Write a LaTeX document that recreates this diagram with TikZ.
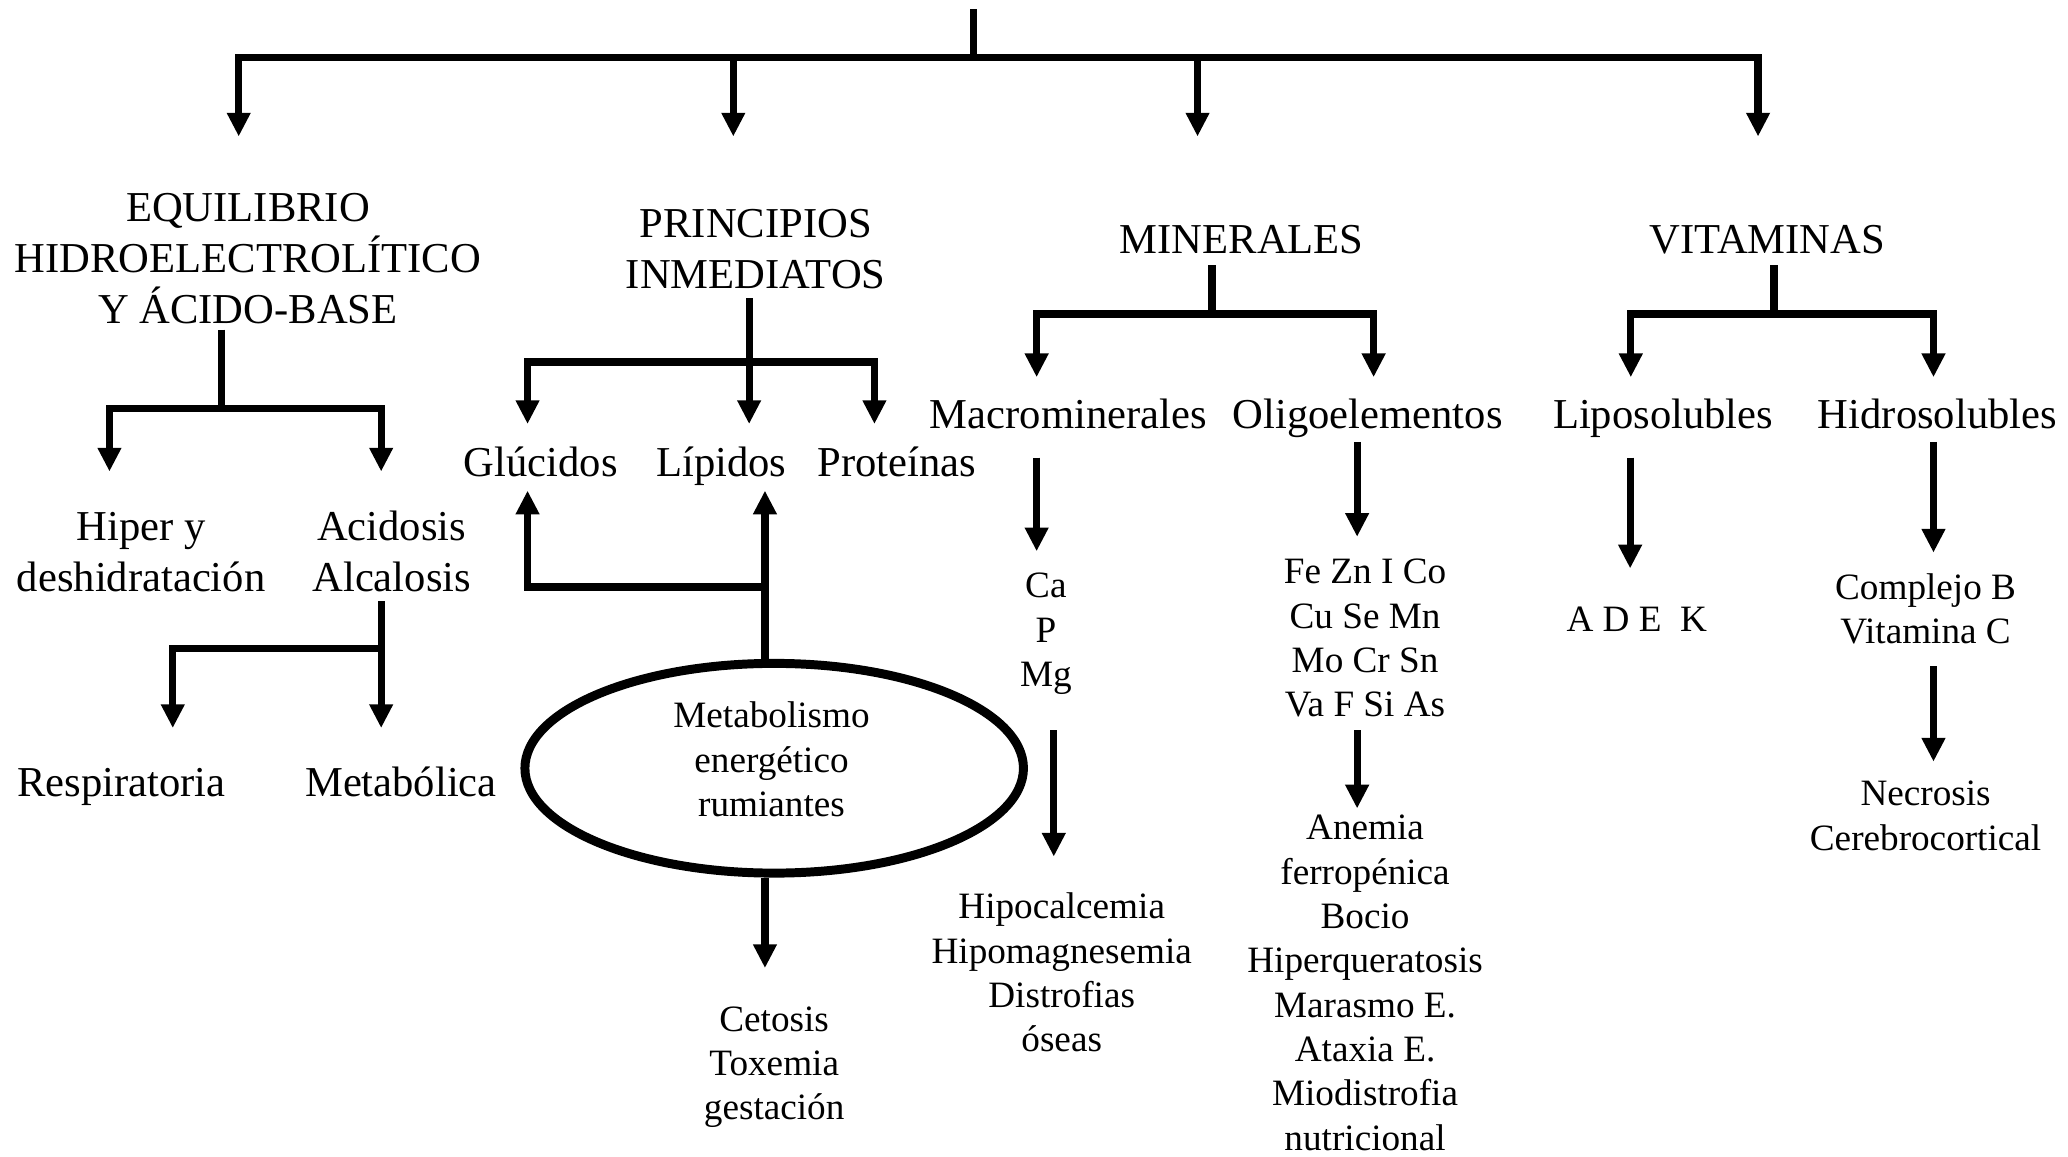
\documentclass[tikz,border=0pt]{standalone}
\usepackage{fontspec}
\setmainfont{Liberation Serif}
\usetikzlibrary{arrows.meta,shapes.geometric}
\begin{document}
\begin{tikzpicture}[x=1pt,y=-1pt,
  line/.style={line width=5.5pt},
  arr/.style={line width=5.5pt,-{Triangle[length=18pt,width=17pt]}},
  big/.style={font=\fontsize{32.3}{38.5}\selectfont, align=center, anchor=base, inner sep=0pt},
  small/.style={font=\fontsize{28.2}{33.6}\selectfont, align=center, anchor=base, inner sep=0pt},
  oval/.style={draw, ellipse, line width=6.8pt, minimum width=378pt, minimum height=159pt, inner sep=0pt}]
\useasboundingbox (0,0) rectangle (1568,877);

% ---- text nodes (placed by the baseline of their last line) ----
\node[big] (eq) at (188,245) {EQUILIBRIO\\HIDROELECTROLÍTICO\\Y ÁCIDO-BASE};
\node[big] (pr) at (573,218.5) {PRINCIPIOS\\INMEDIATOS};
\node[big] (min) at (941.5,192) {MINERALES};
\node[big] (vit) at (1340,192) {VITAMINAS};
\node[big] (hip) at (107,448.5) {Hiper y\\deshidratación};
\node[big] (ac) at (297,448.5) {Acidosis\\Alcalosis};
\node[big] (res) at (92,604) {Respiratoria};
\node[big] (mtb) at (304,604) {Metabólica};
\node[big] (gl) at (410,361.5) {Glúcidos};
\node[big] (lp) at (547,361.5) {Lípidos};
\node[big] (pt) at (680,361.5) {Proteínas};
\node[big] (mac) at (810,325) {Macrominerales};
\node[big] (oli) at (1037,325) {Oligoelementos};
\node[big] (lipo) at (1261,325) {Liposolubles};
\node[big] (hid) at (1469,325) {Hidrosolubles};
\node[oval] (met) at (587,582.5) {};
\node[small] (metx) at (585,619) {Metabolismo\\energético\\rumiantes};
\node[small] (cet) at (587,849) {Cetosis\\Toxemia\\gestación};
\node[small] (ca) at (793,520.6) {Ca\\P\\Mg};
\node[small] (hipo) at (805,797.4) {Hipocalcemia\\Hipomagnesemia\\Distrofias\\óseas};
\node[small] (fe) at (1035,543.4) {Fe Zn I Co\\Cu Se Mn\\Mo Cr Sn\\Va F Si As};
\node[small] (ane) at (1035,872) {Anemia\\ferropénica\\Bocio\\Hiperqueratosis\\Marasmo E.\\Ataxia E.\\Miodistrofia\\nutricional};
\node[small] (adek) at (1241,479) {A D E\ \ K};
\node[small] (cb) at (1460,487.8) {Complejo B\\Vitamina C};
\node[small] (nec) at (1460,644.5) {Necrosis\\Cerebrocortical};

% ---- connector end points ----
\coordinate (top) at (738,7);   \coordinate (hub) at (738,43.5);
\coordinate (eqT) at (181,103.5); \coordinate (prT) at (556,103.5);
\coordinate (minT) at (908,103.5); \coordinate (vitT) at (1333,103.5);

\coordinate (eqS) at (168,250);  \coordinate (eqH) at (168,310);
\coordinate (hipT) at (83,357.5); \coordinate (acT) at (289,357.5);
\coordinate (acS) at (289,456);  \coordinate (acH) at (289,491.5);
\coordinate (resT) at (131,552); \coordinate (mtbT) at (289,552);

\coordinate (prS) at (568,226);  \coordinate (prH) at (568,274.5);
\coordinate (glT) at (400,321.5); \coordinate (lpT) at (568,321.5); \coordinate (ptT) at (663,321.5);
\coordinate (upH) at (580,445);
\coordinate (glU) at (400,372);  \coordinate (lpU) at (580,372);
\coordinate (cetT) at (580,734);

\coordinate (minS) at (919,201); \coordinate (minH) at (919,238);
\coordinate (macT) at (786,286); \coordinate (oliT) at (1041.5,286);
\coordinate (macS) at (786,347); \coordinate (caT) at (786,418);
\coordinate (caS) at (799,553.5); \coordinate (hipoT) at (799,649.5);
\coordinate (oliS) at (1029,335); \coordinate (feT) at (1029,407);
\coordinate (feS) at (1029,553.5); \coordinate (aneT) at (1029,613);

\coordinate (vitS) at (1345,201); \coordinate (vitH) at (1345,238);
\coordinate (lipoT) at (1236.5,286); \coordinate (hidT) at (1466,286);
\coordinate (lipoS) at (1236,347); \coordinate (adekT) at (1236,431);
\coordinate (hidS) at (1466,335); \coordinate (cbT) at (1466,419);
\coordinate (cbS) at (1466,505); \coordinate (necT) at (1466,577.5);

% ---- main bracket ----
\draw[line] (top) -- (hub);
\draw[arr] (hub) -| (eqT);
\draw[arr] (hub) -| (prT);
\draw[arr] (hub) -| (minT);
\draw[arr] (hub) -| (vitT);

% ---- equilibrio ----
\draw[line] (eqS) -- (eqH);
\draw[arr] (eqH) -| (hipT);
\draw[arr] (eqH) -| (acT);
\draw[line] (acS) -- (acH);
\draw[arr] (acH) -| (resT);
\draw[arr] (acH) -- (mtbT);

% ---- principios inmediatos ----
\draw[line] (prS) -- (prH);
\draw[arr] (prH) -| (glT);
\draw[arr] (prH) -- (lpT);
\draw[arr] (prH) -| (ptT);
\draw[arr] (met.north -| lpU) -- (lpU);
\draw[arr] (upH) -| (glU);
\draw[arr] (met.south -| cetT) -- (cetT);

% ---- minerales ----
\draw[line] (minS) -- (minH);
\draw[arr] (minH) -| (macT);
\draw[arr] (minH) -| (oliT);
\draw[arr] (macS) -- (caT);
\draw[arr] (caS) -- (hipoT);
\draw[arr] (oliS) -- (feT);
\draw[arr] (feS) -- (aneT);

% ---- vitaminas ----
\draw[line] (vitS) -- (vitH);
\draw[arr] (vitH) -| (lipoT);
\draw[arr] (vitH) -| (hidT);
\draw[arr] (lipoS) -- (adekT);
\draw[arr] (hidS) -- (cbT);
\draw[arr] (cbS) -- (necT);
\end{tikzpicture}
\end{document}
